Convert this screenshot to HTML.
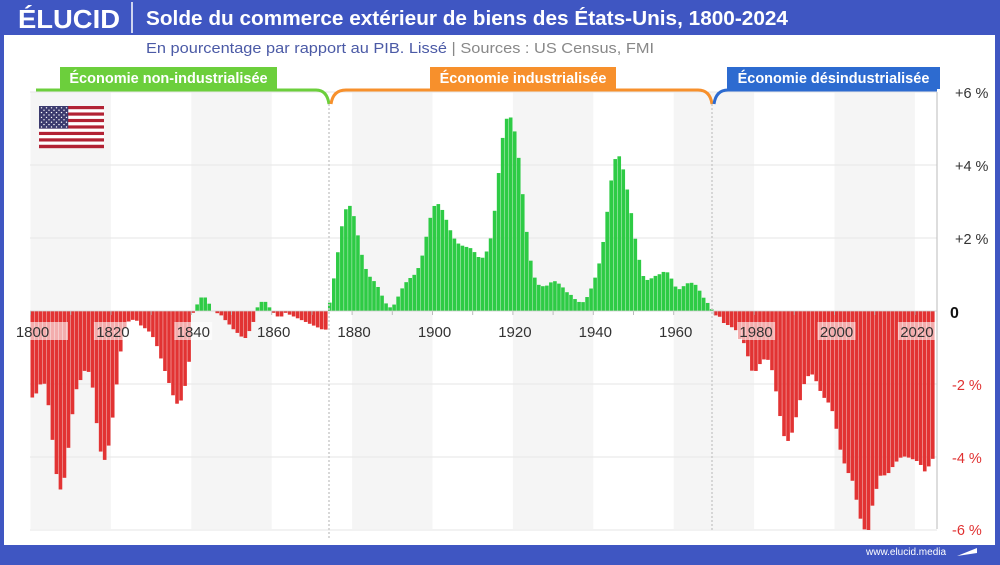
<!DOCTYPE html>
<html><head><meta charset="utf-8"><style>
body{margin:0;width:1000px;height:560px;overflow:hidden;background:#3f56c2;font-family:"Liberation Sans",sans-serif}
</style></head><body>
<svg id="s" width="1000" height="560" xmlns="http://www.w3.org/2000/svg" font-family="Liberation Sans, sans-serif">
<rect x="0" y="0" width="1000" height="560" fill="#3f56c2"/>
<rect x="4" y="35" width="991" height="510" fill="#fff"/>
<text x="18" y="28" fill="#fff" font-size="26" font-weight="bold" textLength="102" lengthAdjust="spacingAndGlyphs">ÉLUCID</text>
<line x1="132" y1="2" x2="132" y2="33" stroke="#fff" stroke-width="1.5"/>
<text x="146" y="25" fill="#fff" font-size="20" font-weight="bold" textLength="642" lengthAdjust="spacingAndGlyphs">Solde du commerce extérieur de biens des États-Unis, 1800-2024</text>
<text x="146" y="53" font-size="15" fill="#4b5aa6" textLength="508" lengthAdjust="spacingAndGlyphs">En pourcentage par rapport au PIB. Lissé <tspan fill="#888">|  Sources : US Census, FMI</tspan></text>
<g id="bands"></g>
<g id="grid"></g>
<g id="bars"></g>
<g id="labs"></g>
<line x1="329" y1="104" x2="329" y2="540" stroke="#ccc" stroke-width="1.5" stroke-dasharray="2,2"/>
<line x1="712" y1="104" x2="712" y2="530" stroke="#ccc" stroke-width="1.5" stroke-dasharray="2,2"/>
<line x1="937" y1="92" x2="937" y2="529" stroke="#bbb" stroke-width="1"/>
<path d="M36 90 H316 Q327 90 329 104" fill="none" stroke="#6ccf3c" stroke-width="3"/>
<path d="M331 104 Q333 90 346 90 H698 Q710 90 712 104" fill="none" stroke="#f7902c" stroke-width="3"/>
<path d="M714 104 Q716 90 728 90 H937" fill="none" stroke="#2d6bd0" stroke-width="3"/>
<rect x="60" y="67" width="217" height="22" fill="#6ccf3c"/>
<text x="168.5" y="83" text-anchor="middle" fill="#fff" font-size="14.5" font-weight="bold">Économie non-industrialisée</text>
<rect x="430" y="67" width="186" height="22" fill="#f7902c"/>
<text x="523" y="83" text-anchor="middle" fill="#fff" font-size="14.5" font-weight="bold">Économie industrialisée</text>
<rect x="727" y="67" width="213" height="22" fill="#2d6bd0"/>
<text x="833.5" y="83" text-anchor="middle" fill="#fff" font-size="14.5" font-weight="bold">Économie désindustrialisée</text>
<g id="flag"></g>
<text x="955" y="98" font-size="14.5" fill="#333">+6 %</text>
<text x="955" y="171" font-size="14.5" fill="#333">+4 %</text>
<text x="955" y="244" font-size="14.5" fill="#333">+2 %</text>
<text x="950" y="318" font-size="16" font-weight="bold" fill="#111">0</text>
<text x="952" y="390" font-size="14.5" fill="#e03030">-2 %</text>
<text x="952" y="463" font-size="14.5" fill="#e03030">-4 %</text>
<text x="952" y="535" font-size="14.5" fill="#e03030">-6 %</text>
<text x="866" y="555" font-size="10" fill="#fff">www.elucid.media</text>
<path d="M957 556 L977 548 L977 553 Z" fill="#fff"/>
</svg>
<script>
const NS="http://www.w3.org/2000/svg";
function el(p,t,a,txt){const e=document.createElementNS(NS,t);for(const k in a)e.setAttribute(k,a[k]);if(txt)e.textContent=txt;document.getElementById(p).appendChild(e);return e;}
const X0=30.5,W=4.02,Y0=311,K=36.5;
function yx(y){return X0+(y-1800)*W;}
for(let y=1800;y<2024;y+=40){el("bands","rect",{x:yx(y),y:92,width:20*W,height:437,fill:"#f5f5f5"});}
[2,4,6,-2,-4,-6].forEach(v=>el("grid","line",{x1:30,x2:937,y1:Y0-v*K,y2:Y0-v*K,stroke:"#e6e6e6","stroke-width":1}));
function rs(arr,n){const o=[];for(let i=0;i<n;i++){const t=i*(arr.length-1)/(n-1);const a=Math.floor(t),f=t-a;o.push(arr[a]*(1-f)+(arr[Math.min(a+1,arr.length-1)])*f);}return o;}
const A=[2.37,2.25,1.97,2.0,2.83,3.95,4.89,4.89,4.09,3.04,2.19,1.92,1.64,1.67,2.16,3.3,4.06,4.09,3.39,2.45,1.42,0.53,0.3,0.24,0.26,0.4,0.48,0.58,0.76,1.06,1.46,1.81,2.17,2.54,2.54,2.15,1.5,0.05].map(v=>-v);
const M=[0.18,0.37,0.37,0.2,0,-0.06,-0.12,-0.25,-0.37,-0.5,-0.6,-0.7,-0.74,-0.55,-0.3,0.1,0.25,0.25,0.1,-0.05,-0.15,-0.15,-0.05,-0.1,-0.15,-0.2,-0.25,-0.3,-0.35,-0.4,-0.45,-0.5,-0.51];
const B=[0.23,0.93,1.69,2.44,2.88,2.88,2.47,1.84,1.32,1.0,0.87,0.75,0.5,0.25,0.09,0.14,0.37,0.61,0.79,0.91,1.0,1.21,1.6,2.19,2.72,2.97,2.9,2.65,2.33,2.05,1.87,1.8,1.76,1.74,1.63,1.48,1.46,1.64,2.03,2.88,4.02,5.0,5.39,5.25,4.68,3.76,2.58,1.6,1.0,0.73,0.68,0.68,0.78,0.82,0.75,0.64,0.5,0.43,0.3,0.23,0.25,0.46,0.73,1.08,1.55,2.36,3.33,4.11,4.31,3.97,3.4,2.72,1.98,1.37,0.91,0.84,0.91,0.98,1.02,1.1,1.03,0.76,0.57,0.64,0.75,0.78,0.75,0.59,0.38,0.23,0.05];
const C=[0.12,0.16,0.35,0.39,0.46,0.55,0.88,0.88,1.53,1.74,1.52,1.35,1.28,1.49,2.08,2.81,3.42,3.56,3.32,2.86,2.36,1.9,1.74,1.74,2.04,2.31,2.45,2.58,3.0,3.68,4.11,4.41,4.59,5.14,5.69,6.0,6.0,5.2,4.78,4.41,4.55,4.37,4.2,4.05,3.98,4.0,4.05,4.09,4.18,4.41,4.27,4.05].map(v=>-v);
const D=[].concat(rs(A,41),M,rs(B,96),rs(C,55));
D.forEach((v,i)=>{const x=X0+i*W;const h=Math.abs(v)*K;el("bars","rect",{x:x,y:v>=0?Y0-h:Y0,width:W-0.4,height:Math.max(h,0),fill:v>=0?"#2ecb45":"#e23333"});});
for(let y=1800;y<=2020;y+=10){el("bars","line",{x1:yx(y),x2:yx(y),y1:Y0,y2:Y0+4,stroke:"#bbb"});}
el("bars","line",{x1:30,x2:937,y1:Y0,y2:Y0,stroke:"#ccc","stroke-width":0.8});
for(let y=1800;y<=2020;y+=20){const x=yx(y)+2;const red=[1800,1820,1840,1980,2000,2020].includes(y);
if(red)el("labs","rect",{x:Math.max(x-19,30),y:322,width:Math.min(38,937-Math.max(x-19,30)),height:18,fill:"rgba(255,255,255,0.6)"});
el("labs","text",{x:x,y:337,"text-anchor":"middle","font-size":"15",fill:"#333"},String(y));}
const fx=39,fy=106,fw=65,fh=42;
for(let i=0;i<13;i++)el("flag","rect",{x:fx,y:fy+i*fh/13,width:fw,height:fh/13+0.2,fill:i%2?"#fff":"#b22234"});
el("flag","rect",{x:fx,y:fy,width:fw*0.45,height:fh*7/13,fill:"#3c3b6e"});
for(let r=0;r<9;r++)for(let c=0;c<(r%2?5:6);c++)el("flag","circle",{cx:fx+2.5+c*5+(r%2?2.5:0),cy:fy+1.8+r*2.4,r:0.7,fill:"#fff"});
</script>
</body></html>
